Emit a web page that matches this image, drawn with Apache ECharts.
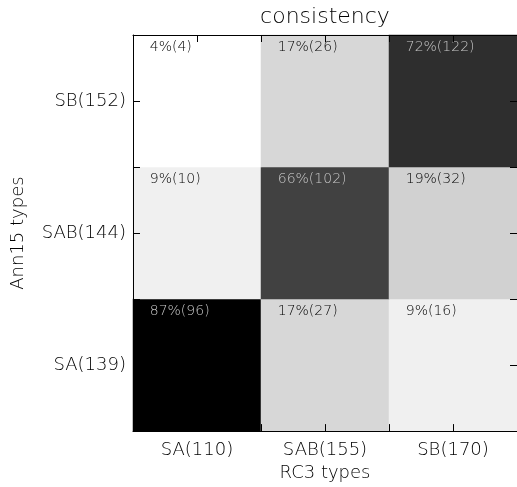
<!DOCTYPE html>
<html>
<head>
<meta charset="utf-8">
<script src="https://cdn.jsdelivr.net/npm/echarts@6/dist/echarts.min.js"></script>
<style>
  html, body { margin: 0; padding: 0; background: #ffffff; }
  #chart { width: 517px; height: 487px; }
</style>
</head>
<body>
<div id="chart"></div>
<script>
// RC3 classes along x, Ann15 classes along y (bottom to top)
const rc3Types = ['SA(110)', 'SAB(155)', 'SB(170)'];
const ann15Types = ['SA(139)', 'SAB(144)', 'SB(152)'];

// Share of each RC3 column (percent) and the matching object counts,
// one row per Ann15 class, in the same order as ann15Types
const percentRows = [
  [87, 17, 9],   // SA
  [9, 66, 19],   // SAB
  [4, 17, 72]    // SB
];
const countRows = [
  [96, 27, 16],
  [10, 102, 32],
  [4, 26, 122]
];

const FONT = 'DejaVu Sans';
const WEIGHT = 200;

const cells = [];
percentRows.forEach((row, yi) => {
  row.forEach((pct, xi) => {
    cells.push({
      value: [xi, yi, pct, countRows[yi][xi]],
      label: { color: pct > 50 ? '#c8c8c8' : '#000000' }
    });
  });
});

// Plain value axes that only carry the frame and its tick marks
function tickAxis(position) {
  return {
    type: 'value',
    position: position,
    min: 0,
    max: 3,
    interval: 0.5,
    z: 10,
    axisLine: { show: true, onZero: false, lineStyle: { color: '#000000', width: 1 } },
    axisTick: { show: true, inside: true, length: 7, lineStyle: { color: '#000000', width: 1 } },
    axisLabel: { show: false },
    splitLine: { show: false }
  };
}

const chart = echarts.init(document.getElementById('chart'), null, { renderer: 'canvas' });
chart.setOption({
  animation: false,
  backgroundColor: '#ffffff',
  title: {
    text: 'consistency',
    left: 325,
    textAlign: 'center',
    top: 6,
    padding: 0,
    textStyle: { fontFamily: FONT, fontSize: 22, fontWeight: WEIGHT, color: '#000000' }
  },
  grid: { left: 133, top: 35, right: -1.5, bottom: 54, containLabel: false },
  xAxis: [
    {
      type: 'category',
      data: rc3Types,
      position: 'bottom',
      name: 'RC3 types',
      nameLocation: 'middle',
      nameGap: 30,
      nameTextStyle: { fontFamily: FONT, fontSize: 18, fontWeight: WEIGHT, color: '#000000' },
      axisLine: { show: false },
      axisTick: { show: false },
      axisLabel: { fontFamily: FONT, fontSize: 18, fontWeight: WEIGHT, color: '#000000', margin: 10 },
      splitLine: { show: false }
    },
    tickAxis('bottom'),
    tickAxis('top')
  ],
  yAxis: [
    {
      type: 'category',
      data: ann15Types,
      position: 'left',
      name: 'Ann15 types',
      nameLocation: 'middle',
      nameGap: 106,
      nameRotate: 90,
      nameTextStyle: { fontFamily: FONT, fontSize: 18, fontWeight: WEIGHT, color: '#000000' },
      axisLine: { show: false },
      axisTick: { show: false },
      axisLabel: { fontFamily: FONT, fontSize: 18, fontWeight: WEIGHT, color: '#000000', margin: 7 },
      splitLine: { show: false }
    },
    tickAxis('left'),
    tickAxis('right')
  ],
  visualMap: {
    show: false,
    min: 4,
    max: 87,
    dimension: 2,
    seriesIndex: 0,
    inRange: { color: ['#ffffff', '#000000'] }
  },
  series: [{
    type: 'heatmap',
    xAxisIndex: 0,
    yAxisIndex: 0,
    data: cells,
    label: {
      show: true,
      position: [17, 6],
      fontFamily: FONT,
      fontSize: 14,
      fontWeight: WEIGHT,
      formatter: p => p.value[2] + '%(' + p.value[3] + ')'
    },
    emphasis: { disabled: true },
    itemStyle: { borderWidth: 0 }
  }]
});
</script>
</body>
</html>
